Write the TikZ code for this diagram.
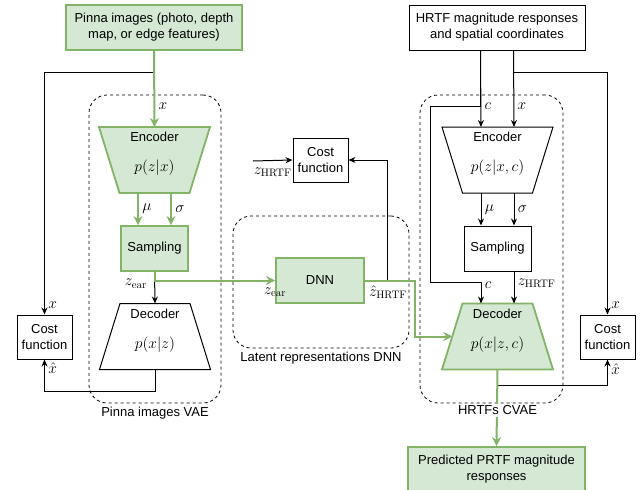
\RequirePackage{fix-cm}
\documentclass[tikz,border=0pt]{standalone}
\usepackage[no-math]{fontspec}
\setmainfont{Liberation Sans}
\usetikzlibrary{positioning,arrows.meta}
\definecolor{gfill}{HTML}{D5E8D4}
\definecolor{gline}{HTML}{82B366}

\begin{document}
\begin{tikzpicture}[x=1pt,y=-1pt,font=\fontsize{13}{16}\selectfont]
	\tikzset{box/.style={draw,
				rectangle,
				line width=1pt,
				minimum width=55pt,
				minimum height=44pt,
				inner sep=2pt,
				align=center},
			gbox/.style={box,
				draw=gline,
				fill=gfill,
				line width=1.8pt},
			trapbox/.style={rectangle,
				minimum width=111pt,
				minimum height=66pt,
				inner sep=0pt,
				outer sep=0pt},
			trap/.style={draw,
				line width=1pt,
				line join=miter},
			gtrap/.style={trap,
				draw=gline,
				fill=gfill,
				line width=1.8pt},
			group/.style={draw,
				dash pattern=on 3pt off 3pt,
				rounded corners=18pt,
				line width=0.8pt,
				inner sep=0pt},
			lab/.style={font=\fontsize{15.5}{18}\selectfont},
			arr/.style={-{Stealth[length=7pt,width=6pt]},
				line width=1pt},
			garr/.style={-{Stealth[length=9pt,width=9pt]},
				draw=gline,
				line width=2pt}}
	\useasboundingbox (0,0) rectangle (641,490);

	% Groups
	\node[group, minimum width=132pt, minimum height=308pt] (vae) at (155,249) {};
	\node[group, minimum width=176pt, minimum height=132pt] (latent) at (321,282) {};
	\node[group, minimum width=143pt, minimum height=308pt] (cvae) at (491.5,249) {};

	% Nodes
	\node[gbox, minimum width=176pt, minimum height=45pt] (pinna) at (154,27.5) {Pinna images (photo, depth\\map, or edge features)};
	\node[box, minimum width=176pt, minimum height=45pt] (hrtf) at (497,27.5) {HRTF magnitude responses\\and spatial coordinates};

	\node[trapbox] (encL) at (154.5,160) {};
	\draw[gtrap] (encL.north west) -- (encL.north east) -- ([xshift=-20.5pt]encL.south east) -- ([xshift=20.5pt]encL.south west) -- cycle;
	\node (encLtxt) at (154.5,137) {Encoder};
	\node[lab] (encLeq) at (154.5,168) {$p(z|x)$};
	\node[gbox, minimum width=67pt, minimum height=45pt] (sampL) at (154.5,248.5) {Sampling};
	\node[trapbox] (decL) at (155,336.5) {};
	\draw[trap] ([xshift=20.5pt]decL.north west) -- ([xshift=-20.5pt]decL.north east) -- (decL.south east) -- (decL.south west) -- cycle;
	\node (decLtxt) at (155,314) {Decoder};
	\node[lab] (decLeq) at (155,345) {$p(x|z)$};
	\node[box] (costL) at (44.5,337) {Cost\\function};

	\node[box] (costM) at (320.5,160) {Cost\\function};
	\node[gbox, minimum width=88pt, minimum height=45pt] (dnn) at (320,280.5) {DNN};
	\coordinate (zin) at (253,161);

	\node[trapbox] (encR) at (497.5,160) {};
	\draw[trap] (encR.north west) -- (encR.north east) -- ([xshift=-20.5pt]encR.south east) -- ([xshift=20.5pt]encR.south west) -- cycle;
	\node (encRtxt) at (497.5,137) {Encoder};
	\node[lab] (encReq) at (497.5,168) {$p(z|x,c)$};
	\node[box, minimum width=67pt, minimum height=45pt] (sampR) at (497.5,248.5) {Sampling};
	\node[trapbox] (decR) at (497.5,336.5) {};
	\draw[gtrap] ([xshift=20.5pt]decR.north west) -- ([xshift=-20.5pt]decR.north east) -- (decR.south east) -- (decR.south west) -- cycle;
	\node (decRtxt) at (497.5,314) {Decoder};
	\node[lab] (decReq) at (497.5,345) {$p(x|z,c)$};
	\node[box] (costR) at (607.5,337) {Cost\\function};
	\node[gbox, minimum width=177pt, minimum height=45pt] (pred) at (496.5,469.5) {Predicted PRTF magnitude\\responses};

	% Arrows (left)
	\draw[arr] (pinna.south) -- ++(0,22) -| node[lab, pos=0.98, right]{$x$} (costL.north);
	\draw[garr] (pinna.south) -- node[lab, pos=0.73, right]{$x$} (encL.north);
	\draw[garr] ([xshift=-16.5pt]encL.south) -- node[lab, right]{$\mu$} ([xshift=-16.5pt]sampL.north);
	\draw[garr] ([xshift=16.5pt]encL.south) -- node[lab, right]{$\sigma$} ([xshift=16.5pt]sampL.north);
	\draw[arr] (sampL.south) -- node[lab, pos=0.37, left=4pt]{$z_{\mathrm{ear}}$} (decL.north);
	\draw[garr] (sampL.south) |- node[lab, pos=1, below, yshift=-3pt]{$z_{\mathrm{ear}}$} (dnn.west);
	\draw[arr] (decL.south) -- ++(0,22) -| node[lab, pos=0.86, right]{$\hat{x}$} (costL.south);

	% Arrows (middle)
	\draw[arr] (zin) -- node[lab, below, yshift=-3pt]{$z_{\mathrm{HRTF}}$} (costM.west);
	\draw[arr] (dnn.east) -- ++(23,0) |- (costM.east);
	\draw[garr] (dnn.east) node[lab, below right, yshift=-1pt]{$\hat{z}_{\mathrm{HRTF}}$} -- ++(50,0) |- ([xshift=10.25pt]decR.west);

	% Arrows (right)
	\draw[arr] ([xshift=16.5pt]hrtf.south) -- ++(0,22) -| node[lab, pos=0.98, right]{$x$} (costR.north);
	\draw[arr] ([xshift=16.5pt]hrtf.south) -- node[lab, pos=0.73, right]{$x$} ([xshift=16.5pt]encR.north);
	\draw[arr] ([xshift=-16.5pt]hrtf.south) -- node[lab, pos=0.73, right]{$c$} ([xshift=-16.5pt]encR.north);
	\draw[arr] ([xshift=-16.5pt]hrtf.south) -- ++(0,56) -- ++(-50,0) -- ++(0,176) -| node[lab, pos=0.56, right]{$c$} ([xshift=-16.5pt]decR.north);
	\draw[arr] ([xshift=-16.5pt]encR.south) -- node[lab, right]{$\mu$} ([xshift=-16.5pt]sampR.north);
	\draw[arr] ([xshift=16.5pt]encR.south) -- node[lab, right]{$\sigma$} ([xshift=16.5pt]sampR.north);
	\draw[arr] ([xshift=16.5pt]sampR.south) -- node[lab, pos=0.37, right]{$z_{\mathrm{HRTF}}$} ([xshift=16.5pt]decR.north);
	\draw[arr] (decR.south) -- ++(0,16) -| node[lab, pos=0.81, right]{$\hat{x}$} (costR.south);
	\draw[garr] (decR.south) -- (pred.north);

	% Group labels
	\node[below=0pt of vae] (vaelab) {Pinna images VAE};
	\node[below=0pt of latent] (latentlab) {Latent representations DNN};
	\node[below=0pt of cvae.south -| decR, fill=white, inner sep=2pt] (cvaelab) {HRTFs CVAE};
\end{tikzpicture}
\end{document}
